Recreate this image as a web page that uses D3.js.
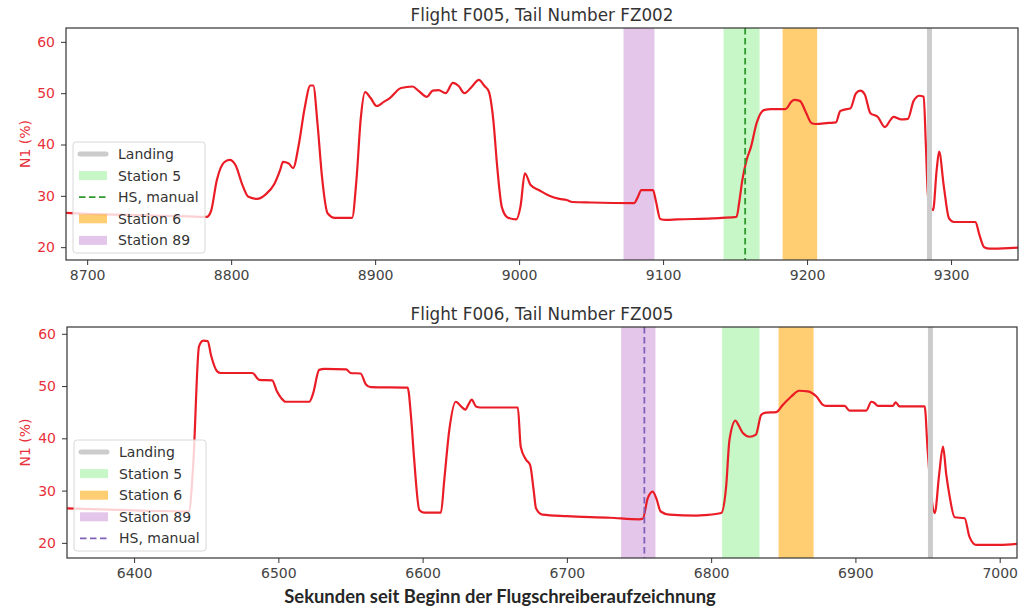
<!DOCTYPE html>
<html>
<head>
<meta charset="utf-8">
<script src="https://cdn.jsdelivr.net/npm/d3@7"></script>
<style>
  body { margin: 0; background: #fff; }
  text { font-family: "DejaVu Sans", sans-serif; }
</style>
</head>
<body>
<svg id="chart" width="1024" height="609"></svg>
<script>
// Flight F005 / FZ002 (top)
const f005Time = [8685, 8700, 8740, 8770, 8783, 8786, 8790, 8795, 8799, 8803, 8808, 8812, 8818, 8824, 8830, 8834, 8836, 8840, 8843, 8847,
  8851, 8855, 8857, 8860, 8863, 8867, 8872, 8884, 8887, 8890, 8893, 8897, 8901, 8906, 8910, 8918, 8926, 8930, 8936, 8940,
  8944, 8949, 8954, 8958, 8962, 8967, 8972, 8976, 8979, 8982, 8985, 8988, 8992, 8998, 9001, 9004, 9008, 9014, 9021, 9028,
  9033, 9037, 9050, 9080, 9082, 9085, 9093, 9095, 9098, 9102, 9110, 9134, 9141, 9151, 9153, 9155, 9158, 9161, 9165, 9170,
  9175, 9185, 9189, 9191, 9195, 9199, 9203, 9206, 9215, 9220, 9223, 9226, 9230, 9234, 9237, 9240, 9244, 9249, 9254, 9258,
  9260, 9265, 9270, 9274, 9278, 9281, 9282.5, 9284, 9287.5, 9290, 9291.7, 9295, 9298.6, 9302, 9317, 9319.5, 9323, 9327, 9340, 9347];
const f005N1 = [26.7, 26.5, 26.2, 26.0, 25.9, 27, 33, 36.5, 37, 36, 32, 29.8, 29.4, 30.3, 32.3, 35, 36.6, 36.3, 35.4, 40,
  47, 51.5, 51.5, 44, 34, 26.6, 25.7, 25.7, 33, 45, 50.2, 49, 47.5, 48.3, 49, 51, 51.3, 50.5, 49.3, 50.5,
  50.6, 50, 52, 51.4, 50, 51.2, 52.6, 51.4, 50.3, 45, 35, 27.8, 25.8, 25.4, 28, 34.4, 32.1, 31.1, 30, 29.4,
  29.2, 28.8, 28.7, 28.6, 29.5, 31.1, 31.1, 29, 25.5, 25.3, 25.4, 25.6, 25.7, 25.9, 29, 33, 37, 39.5, 44.2, 46.7,
  46.9, 46.9, 48.3, 48.7, 48.5, 46.4, 44.2, 44, 44.2, 44.3, 46.5, 46.8, 47, 50, 50.5, 49.8, 46.1, 45.4, 43.4, 44.8,
  45.4, 44.9, 45, 48.5, 49.5, 49.3, 40, 30, 27.2, 35, 38.6, 31.8, 25.6, 24.9, 24.9, 22.6, 20, 19.7, 19.8, 19.9];

// Flight F006 / FZ005 (bottom)
const f006Time = [6353, 6400, 6438, 6441, 6445, 6448, 6451, 6453.5, 6457.6, 6460, 6482, 6486.7, 6495.7, 6499, 6502, 6505, 6521.4, 6524, 6528.3, 6532,
  6547, 6550, 6557, 6560.7, 6564, 6589.6, 6592, 6594, 6597.7, 6601, 6612.7, 6615, 6618.5, 6623, 6627, 6629.6, 6632, 6634, 6637, 6640,
  6666, 6668, 6671.7, 6674.5, 6677, 6678.6, 6683, 6700, 6730, 6750, 6752.6, 6756, 6759.5, 6762, 6765, 6771, 6790, 6796, 6807, 6810.4,
  6812.7, 6816.9, 6819, 6822, 6826.6, 6831, 6834.7, 6838, 6845, 6849.7, 6855.5, 6861, 6867, 6873, 6877.5, 6880, 6892.5, 6896, 6907.5, 6911,
  6913, 6915.6, 6926, 6927.9, 6930.6, 6948, 6950, 6953, 6955, 6958, 6960.7, 6963, 6965.3, 6968.8, 6975.7, 6979, 6983.8, 7000, 7012];
const f006N1 = [26.6, 26.2, 26.0, 35, 57.6, 58.7, 58.6, 55.7, 52.8, 52.5, 52.5, 51.2, 51.1, 49, 47.7, 47, 47, 48.5, 53.1, 53.3,
  53.2, 52.5, 52.4, 50.3, 49.8, 49.7, 44, 36.5, 26.3, 25.8, 25.8, 32, 41.6, 47, 46, 45.5, 46.6, 47.4, 46.1, 45.9,
  45.9, 38.4, 35.9, 34.9, 30, 26.6, 25.4, 25.1, 24.8, 24.5, 24.6, 28.5, 29.8, 28.5, 26, 25.4, 25.2, 25.3, 25.7, 30.8,
  39.7, 43.4, 42.5, 41, 40.3, 40.7, 44.5, 44.9, 45, 46.4, 48, 49.1, 49, 48, 46.4, 46.2, 46.2, 45.3, 45.3, 47,
  46.8, 46.2, 46.2, 46.9, 46.1, 46.1, 38, 28, 25.7, 33, 38.4, 33, 28.9, 24.9, 24.7, 21.2, 19.6, 19.6, 19.8];

// markers: [start, end] of station spans, landing time, manual HS time
const f005Station5 = [9142, 9167];
const f005Station6 = [9183, 9207];
const f005Station89 = [9072.5, 9094];
const f005Landing = 9285;
const f005Hs = 9157;

const f006Station5 = [6807.6, 6833.5];
const f006Station6 = [6846.7, 6871];
const f006Station89 = [6737.6, 6761.4];
const f006Landing = 6952;
const f006Hs = 6753.7;

const f005Ticks = [8700, 8800, 8900, 9000, 9100, 9200, 9300];
const f006Ticks = [6400, 6500, 6600, 6700, 6800, 6900, 7000];
const n1Ticks = [20, 30, 40, 50, 60];

const f005Legend = ['Landing', 'Station 5', 'HS, manual', 'Station 6', 'Station 89'];
const f006Legend = ['Landing', 'Station 5', 'Station 6', 'Station 89', 'HS, manual'];

const svg = d3.select('#chart');

const style = {
  'Landing': {kind: 'line', color: '#cccccc'},
  'Station 5': {kind: 'patch', color: '#90ee90', op: 0.5},
  'Station 6': {kind: 'patch', color: '#ffa500', op: 0.55},
  'Station 89': {kind: 'patch', color: '#c080d0', op: 0.45},
};

function drawPanel(p) {
  const g = svg.append('g');
  const x = d3.scaleLinear().domain(p.xDomain).range([p.left, p.right]);
  const y = d3.scaleLinear().domain(p.yDomain).range([p.bottom, p.top]);
  const clipId = 'clip' + p.id;

  svg.append('clipPath').attr('id', clipId)
    .append('rect')
    .attr('x', p.left).attr('y', p.top)
    .attr('width', p.right - p.left).attr('height', p.bottom - p.top);

  const plot = g.append('g').attr('clip-path', `url(#${clipId})`);

  // station spans
  const spans = [
    {name: 'Station 5', r: p.st5},
    {name: 'Station 6', r: p.st6},
    {name: 'Station 89', r: p.st89},
  ];
  plot.selectAll('rect.span')
    .data(spans)
    .enter()
    .append('rect')
    .attr('class', 'span')
    .attr('x', d => x(d.r[0]))
    .attr('width', d => x(d.r[1]) - x(d.r[0]))
    .attr('y', p.top)
    .attr('height', p.bottom - p.top)
    .attr('fill', d => style[d.name].color)
    .attr('fill-opacity', d => style[d.name].op);

  // N1 line
  const pts = p.time.map((t, i) => [t, p.n1[i]]);
  plot.append('path')
    .datum(pts)
    .attr('fill', 'none')
    .attr('stroke', '#ea1c26')
    .attr('stroke-width', 2.2)
    .attr('stroke-linejoin', 'round')
    .attr('d', d3.line().x(d => x(d[0])).y(d => y(d[1])).curve(d3.curveMonotoneX));

  // landing line
  plot.append('line')
    .attr('x1', x(p.landing)).attr('x2', x(p.landing))
    .attr('y1', p.top).attr('y2', p.bottom)
    .attr('stroke', style['Landing'].color)
    .attr('stroke-width', 5);

  // HS, manual
  plot.append('line')
    .attr('x1', x(p.hs)).attr('x2', x(p.hs))
    .attr('y1', p.top).attr('y2', p.bottom)
    .attr('stroke', p.hsColor)
    .attr('stroke-width', 1.8)
    .attr('stroke-dasharray', '6.5,3.5');

  // axes
  const xAxis = g.append('g')
    .attr('transform', `translate(0,${p.bottom})`)
    .call(d3.axisBottom(x).tickValues(p.ticks).tickSize(5).tickPadding(5).tickFormat(d3.format('d')));
  xAxis.select('.domain').remove();
  xAxis.selectAll('line').attr('stroke', '#333');
  xAxis.selectAll('text').attr('fill', '#444').style('font-size', '14px').style('font-family', '"DejaVu Sans", sans-serif');

  const yAxis = g.append('g')
    .attr('transform', `translate(${p.left},0)`)
    .call(d3.axisLeft(y).tickValues(n1Ticks).tickSize(5).tickPadding(6));
  yAxis.select('.domain').remove();
  yAxis.selectAll('line').attr('stroke', '#333');
  yAxis.selectAll('text').attr('fill', '#e8303a').style('font-size', '14px').style('font-family', '"DejaVu Sans", sans-serif');

  // frame
  g.append('rect')
    .attr('x', p.left).attr('y', p.top)
    .attr('width', p.right - p.left).attr('height', p.bottom - p.top)
    .attr('fill', 'none').attr('stroke', '#333').attr('stroke-width', 1.2);

  // title
  g.append('text')
    .attr('x', (p.left + p.right) / 2).attr('y', p.top - 7)
    .attr('text-anchor', 'middle')
    .attr('fill', '#333')
    .style('font-size', '16.8px')
    .text(p.title);

  // y label
  g.append('text')
    .attr('transform', `translate(30,${(p.top + p.bottom) / 2}) rotate(-90)`)
    .attr('text-anchor', 'middle')
    .attr('fill', '#e8303a')
    .style('font-size', '14px')
    .text('N1 (%)');

  // legend
  const rowH = 21.6;
  const lgW = 132, lgH = rowH * p.legend.length + 3;
  const lg = g.append('g').attr('transform', `translate(${p.left + 7},${p.bottom - 7 - lgH})`);
  lg.append('rect')
    .attr('width', lgW).attr('height', lgH)
    .attr('rx', 3)
    .attr('fill', '#fff').attr('fill-opacity', 0.8)
    .attr('stroke', '#d8d8d8');
  const rows = lg.selectAll('g.row')
    .data(p.legend)
    .enter()
    .append('g')
    .attr('class', 'row')
    .attr('transform', (d, i) => `translate(0,${12 + i * rowH})`);
  rows.each(function(name) {
    const r = d3.select(this);
    if (name === 'HS, manual') {
      r.append('line').attr('x1', 6).attr('x2', 34).attr('y1', 0).attr('y2', 0)
        .attr('stroke', p.hsColor).attr('stroke-width', 1.8).attr('stroke-dasharray', '6.5,3.5');
    } else if (style[name].kind === 'line') {
      r.append('line').attr('x1', 7).attr('x2', 33).attr('y1', 0).attr('y2', 0)
        .attr('stroke', style[name].color).attr('stroke-width', 5).attr('stroke-linecap', 'round');
    } else {
      r.append('rect').attr('x', 6).attr('y', -4.5).attr('width', 28).attr('height', 9)
        .attr('fill', style[name].color).attr('fill-opacity', style[name].op);
    }
    r.append('text').attr('x', 45).attr('y', 5)
      .attr('fill', '#333').style('font-size', '14px')
      .text(name);
  });
}

drawPanel({
  id: 'a', title: 'Flight F005, Tail Number FZ002',
  time: f005Time, n1: f005N1, ticks: f005Ticks,
  xDomain: [8685.3, 9346.5], yDomain: [17.5, 62.7],
  left: 66, right: 1018, top: 28, bottom: 260,
  st5: f005Station5, st6: f005Station6, st89: f005Station89,
  landing: f005Landing, hs: f005Hs, hsColor: '#2e9a2e',
  legend: f005Legend
});

drawPanel({
  id: 'b', title: 'Flight F006, Tail Number FZ005',
  time: f006Time, n1: f006N1, ticks: f006Ticks,
  xDomain: [6353.5, 7012], yDomain: [17.1, 61.3],
  left: 67, right: 1017, top: 327, bottom: 558,
  st5: f006Station5, st6: f006Station6, st89: f006Station89,
  landing: f006Landing, hs: f006Hs, hsColor: '#8060b8',
  legend: f006Legend
});

// shared x label
svg.append('text')
  .attr('x', 500).attr('y', 603)
  .attr('text-anchor', 'middle')
  .attr('fill', '#262626')
  .style('font-family', 'Lato, "Open Sans", sans-serif')
  .style('font-weight', 'bold')
  .style('font-size', '18.4px')
  .text('Sekunden seit Beginn der Flugschreiberaufzeichnung');
</script>
</body>
</html>
